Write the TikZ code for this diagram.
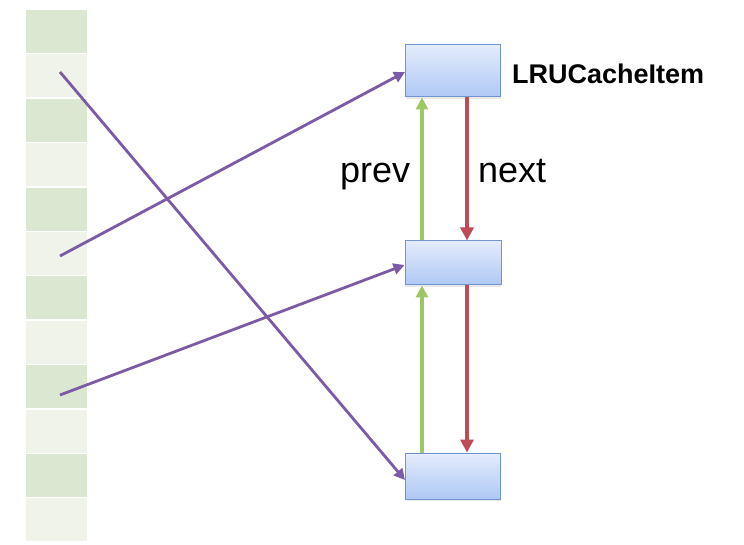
\documentclass[tikz,border=0pt]{standalone}
\usepackage{fontspec}
\setmainfont{Liberation Sans}
\usetikzlibrary{arrows.meta,shadows}
\definecolor{celldark}{HTML}{DCE7D1}
\definecolor{celllight}{HTML}{EFF3E9}
\definecolor{boxtop}{HTML}{E4ECFC}
\definecolor{boxbot}{HTML}{AEC8F5}
\definecolor{boxline}{HTML}{7196CF}
\definecolor{purp}{HTML}{7B5AA6}
\definecolor{grn}{HTML}{9BC765}
\definecolor{rd}{HTML}{BE4B55}
\begin{document}
\begin{tikzpicture}[x=1pt,y=-1pt,
  cell/.style={minimum width=61pt,minimum height=43pt,inner sep=0pt,outer sep=0pt},
  item/.style={draw=boxline,line width=1pt,top color=boxtop,bottom color=boxbot,inner sep=0pt,
    drop shadow={opacity=0.18,shadow xshift=0pt,shadow yshift=-2pt}},
  ptr/.style={draw=purp,line width=2.8pt,-{Triangle[length=11pt,width=11pt]}},
  prevarrow/.style={draw=grn,line width=3.3pt,-{Triangle[length=12pt,width=12pt]}},
  nextarrow/.style={draw=rd,line width=3.3pt,-{Triangle[length=13pt,width=13pt]}},
  lbl/.style={font=\fontsize{36}{40}\selectfont,inner sep=0pt,anchor=base west},
  title/.style={font=\fontsize{27}{30}\selectfont\bfseries,inner sep=0pt,anchor=base west}]
\useasboundingbox (0,0) rectangle (744,545);
\fill[white] (0,0) rectangle (744,545);
\foreach \i in {1,...,12}{
  \pgfmathsetmacro\cy{10+(\i-1)*44.4+21.5}
  \pgfmathtruncatemacro\m{mod(\i,2)}
  \ifnum\m=1
    \node[cell,fill=celldark] (c\i) at (56.5,\cy) {};
  \else
    \node[cell,fill=celllight] (c\i) at (56.5,\cy) {};
  \fi
}
\node[item,minimum width=95pt,minimum height=52pt] (topb) at (453,71) {};
\node[item,minimum width=96pt,minimum height=44pt] (midb) at (453,263) {};
\node[item,minimum width=95pt,minimum height=46pt] (botb) at (453,476) {};
\node[title] (name) at (512,84) {LRUCacheItem};
\node[lbl] (prev) at (340,183) {prev};
\node[lbl] (next) at (478,183) {next};
\coordinate (s2) at (60,72);
\coordinate (s6) at (60,256);
\coordinate (s9) at (60,395);
\draw[ptr] (s2) -- ([yshift=-4pt]botb.west);
\draw[ptr] (s6) -- ([yshift=-1pt]topb.west);
\draw[ptr] (s9) -- ([yshift=-2pt]midb.west);
\draw[prevarrow] ([xshift=-31pt]midb.north) -- ([xshift=-31pt]topb.south);
\draw[prevarrow] ([xshift=-31pt]botb.north) -- ([xshift=-31pt]midb.south);
\draw[nextarrow] ([xshift=14pt]topb.south) -- ([xshift=14pt]midb.north);
\draw[nextarrow] ([xshift=14pt]midb.south) -- ([xshift=14pt]botb.north);
\end{tikzpicture}
\end{document}
